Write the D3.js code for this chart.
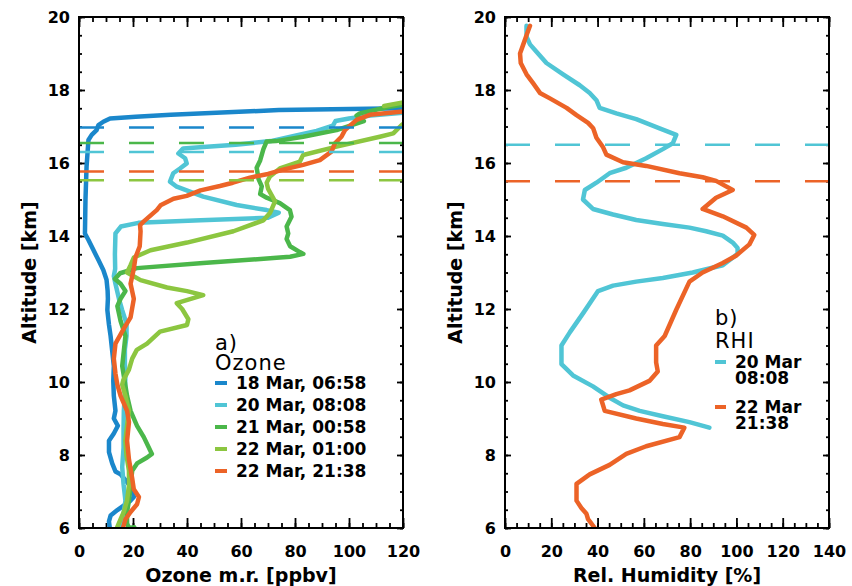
<!DOCTYPE html>
<html>
<head>
<meta charset="utf-8">
<script src="https://cdn.jsdelivr.net/npm/d3@7"></script>
<style>
    body { margin: 0; background: #fff; }
    svg { display: block; }
    .tick text { font-family: "DejaVu Sans", sans-serif; font-weight: bold; font-size: 16px; fill: #000; }
    .tick line { stroke: #000; stroke-width: 1.8px; }
    .ttl { font-family: "DejaVu Sans", sans-serif; font-weight: bold; font-size: 19px; fill: #000; }
    .lg-head { font-family: "DejaVu Sans", sans-serif; font-size: 21px; letter-spacing: 1px; fill: #000; }
    .lg-item { font-family: "DejaVu Sans", sans-serif; font-weight: bold; font-size: 17px; fill: #000; }
</style>
</head>
<body>
<div id="chart"></div>
<script>
// tick labels
var altTicks = [6, 8, 10, 12, 14, 16, 18, 20];
var ozoneTicks = [0, 20, 40, 60, 80, 100, 120];
var rhTicks = [0, 20, 40, 60, 80, 100, 120, 140];

// ozone mixing ratio profiles [ppbv, km]
var ozone18Mar = [[120,17.5],[74,17.45],[34,17.32],[21,17.27],[11.5,17.22],[9,17.13],[7.2,17.04],[6.5,16.9],[4.7,16.77],[3.5,16.63],
    [2.8,15.9],[2.4,15.0],[2.2,14.07],[3.5,13.89],[5.3,13.62],[7.2,13.34],[9,13.07],[10.2,12.8],[10.6,12.5],[10.7,12.28],[10.5,11.97],
    [11.1,11.57],[11.7,11.26],[12.3,10.85],[12.9,10.44],[12.7,10.03],[12.9,9.62],[13.5,9.21],[12.9,9.0],[14.4,8.8],[12.9,8.59],[11.1,8.39],
    [11.1,8.08],[12.3,7.77],[13.5,7.55],[15.4,7.47],[17.8,7.26],[19.7,7.06],[20.3,6.85],[19.1,6.75],[17.2,6.65],[14.2,6.49],[11.7,6.34],
    [11.1,6.18],[11.4,6.0]];
var ozone20Mar = [[120,17.38],[108,17.3],[100,17.22],[95,17.15],[94,17.02],[88,16.88],[80,16.75],[71,16.6],[58,16.5],[46,16.44],
    [38.6,16.4],[36.8,16.26],[39.3,16.13],[39.9,15.99],[37.4,15.85],[34.9,15.72],[33.7,15.49],[36.2,15.35],[46,15.08],[58.4,14.85],
    [69.5,14.71],[74,14.64],[70,14.5],[45,14.43],[22,14.36],[15.5,14.26],[13.5,14.07],[13.3,13.5],[13.4,13.1],[12.9,12.9],[13.5,12.69],
    [14.8,12.28],[16,11.97],[17.6,11.6],[17.6,11.26],[17,10.9],[17,10.5],[17.2,10.23],[17,9.7],[16.6,9.2],[16.5,8.7],[16.5,8.2],
    [16,7.67],[16.5,7.2],[17.2,6.75],[16.5,6.4],[15.4,6.13],[15,6.0]];
var ozone21Mar = [[120,17.6],[115,17.54],[104,17.36],[102.8,17.3],[105.5,17.15],[95.4,16.9],[83,16.72],[73,16.6],[69.5,16.59],
    [68.3,16.38],[67.1,16.07],[65.8,15.87],[66.5,15.56],[67.7,15.36],[67.1,15.15],[69.5,15.05],[74.4,14.9],[78.1,14.71],[78.7,14.53],
    [76.9,14.26],[77.5,14.07],[76.9,13.92],[78.2,13.72],[81.8,13.56],[83.1,13.51],[78.2,13.43],[74.4,13.41],[46,13.26],[21.4,13.12],
    [15.2,12.98],[13.3,12.82],[15.4,12.69],[17.2,12.49],[15.4,12.28],[14.2,12.08],[15.4,11.67],[17.2,11.26],[16.6,10.85],[16,10.44],
    [16.9,10.03],[17.8,9.62],[19.1,9.21],[21.5,8.8],[24,8.49],[27,8.03],[25.2,7.93],[21.5,7.77],[19.7,7.57],[19.1,7.16],[18.5,6.75],
    [17.8,6.44],[17.8,6.13],[18.5,6.0],[20.5,6.02]];
var ozone22Mar01 = [[113,17.56],[120,17.66],[126,17.4],[119.5,17.04],[116.4,16.81],[111.4,16.72],[95.4,16.45],[83,16.22],[81.8,16.04],
    [74.4,15.85],[70.7,15.63],[69.5,15.46],[70,15.3],[72.6,14.95],[70.8,14.64],[68.3,14.43],[57.2,14.13],[40,13.82],[26.5,13.61],
    [20.3,13.41],[19.1,13.2],[17.8,13.0],[22.8,12.79],[32.6,12.59],[40,12.49],[46,12.38],[36.2,12.16],[38.2,12.0],[40.5,11.72],
    [40,11.56],[30,11.38],[25.2,11.05],[21.4,10.88],[19.7,10.64],[18.5,10.34],[16.4,10.05],[16,9.93],[17.2,9.62],[18.5,9.21],
    [17.8,8.8],[17.2,8.39],[17.6,7.98],[18.5,7.57],[18.5,7.16],[17.8,6.75],[16.6,6.44],[15.4,6.24],[14.2,6.03]];
var ozone22Mar21 = [[120,17.41],[107.7,17.32],[102.8,17.18],[98.5,16.9],[97.2,16.72],[94.8,16.54],[93.5,16.31],[89.2,16.08],[83,15.95],
    [75.6,15.82],[70,15.7],[63.3,15.6],[57,15.46],[52.2,15.37],[45,15.25],[39.9,15.1],[35,15.02],[30.2,14.84],[28.8,14.71],[27.4,14.62],
    [24,14.4],[22.6,14.3],[22.8,14.13],[22.5,13.72],[20.9,13.41],[20.3,13.1],[19.1,12.69],[20.3,12.28],[19.1,11.77],[16.6,11.46],
    [13.5,11.05],[12.9,10.64],[13.5,10.23],[14.2,9.93],[15.4,9.62],[17.8,9.21],[18.5,8.9],[17.8,8.39],[18.5,7.88],[19.7,7.36],
    [20.3,7.06],[22.2,6.85],[21.5,6.65],[19.1,6.44],[17.2,6.24],[16.4,6.03]];
var ozoneNames = ["18 Mar, 06:58", "20 Mar, 08:08", "21 Mar, 00:58", "22 Mar, 01:00", "22 Mar, 21:38"];
var ozoneTropo = [16.97, 16.3, 16.55, 15.53, 15.77];

// relative humidity over ice profiles [%, km]
var rhi20Mar = [[9.3,19.76],[9.3,19.46],[10.8,19.25],[13.6,19.05],[17.9,18.74],[25.1,18.43],[32.3,18.13],[36.6,17.92],[39.5,17.72],
    [40.9,17.51],[48.1,17.36],[56.7,17.2],[66.8,16.95],[74,16.77],[72.5,16.54],[68.2,16.38],[61,16.13],[52.4,15.87],[45.2,15.72],
    [39.5,15.46],[34.5,15.26],[33.7,15.0],[38,14.74],[46.7,14.59],[56.7,14.44],[68.2,14.33],[79.7,14.23],[86.9,14.13],[94.1,14.01],
    [98.4,13.82],[100.5,13.67],[100.5,13.51],[94.1,13.2],[81.1,13.0],[68.2,12.85],[56.7,12.75],[46.7,12.64],[40.2,12.49],[33.7,11.88],
    [28,11.36],[24.4,11.0],[24.4,10.49],[29.4,10.18],[38,9.88],[45.2,9.57],[51,9.36],[58.2,9.21],[68.2,9.06],[79.7,8.9],[88.3,8.75]];
var rhi22Mar = [[10.8,19.76],[9.3,19.5],[7.9,19.25],[6.5,19.0],[6.8,18.74],[9.3,18.43],[12.2,18.18],[15.1,17.92],[19.4,17.77],
    [26.6,17.51],[30.9,17.31],[35.9,17.1],[38.1,16.95],[39.5,16.69],[42.4,16.43],[43.8,16.23],[51,16.02],[61,15.92],[75.4,15.72],
    [85.4,15.61],[91.2,15.51],[98.4,15.26],[91.2,15.05],[85.4,14.74],[94.1,14.54],[104.3,14.23],[107.7,14.03],[105.6,13.77],
    [99.8,13.46],[94.1,13.26],[85.4,13.0],[79.7,12.75],[74,11.98],[69,11.26],[65.3,11.0],[65.3,10.54],[66,10.29],[62.4,10.03],
    [53.8,9.77],[48.1,9.67],[41.6,9.52],[43.1,9.21],[56.7,9.0],[68.2,8.85],[77.5,8.75],[75.4,8.49],[61,8.24],[52.4,8.03],[45.2,7.73],
    [36.6,7.47],[30.9,7.21],[30.9,6.75],[33,6.55],[35.2,6.39],[35.9,6.24],[38.8,6.0]];
var rhiNames = [["20 Mar", "08:08"], ["22 Mar", "21:38"]];
var rhiTropo = [16.5, 15.5];

var ozoneColors = ["#1a87cb", "#50c5d5", "#4bb74a", "#8cc640", "#ec6327"];
var rhiColors = ["#50c5d5", "#ec6327"];

var W = 852, H = 586, padTop = 17, ph = 511, pw = 324;

var svg = d3.select("#chart").append("svg")
    .attr("width", W)
    .attr("height", H);

function drawPanel(opt) {
    var g = svg.append("g")
        .attr("transform", "translate(" + opt.left + "," + padTop + ")");

    var x = d3.scaleLinear().domain([0, opt.xMax]).range([0, pw]);
    var y = d3.scaleLinear().domain([6, 20]).range([ph, 0]);

    g.append("clipPath").attr("id", opt.id)
        .append("rect").attr("width", pw).attr("height", ph);

    // minor ticks
    var xMinor = d3.range(0, opt.xMax + 0.01, 5);
    var yMinor = d3.range(6, 20.01, 0.5);
    g.append("g").attr("transform", "translate(0," + ph + ")")
        .call(d3.axisBottom(x).tickValues(xMinor).tickSize(-5).tickFormat(""));
    g.append("g")
        .call(d3.axisTop(x).tickValues(xMinor).tickSize(-5).tickFormat(""));
    g.append("g")
        .call(d3.axisLeft(y).tickValues(yMinor).tickSize(-3).tickFormat(""));
    g.append("g").attr("transform", "translate(" + pw + ",0)")
        .call(d3.axisRight(y).tickValues(yMinor).tickSize(-3).tickFormat(""));

    // major ticks
    g.append("g").attr("transform", "translate(0," + ph + ")")
        .call(d3.axisBottom(x).tickValues(opt.xTicks).tickSize(-10).tickPadding(18).tickFormat(d3.format("d")));
    g.append("g")
        .call(d3.axisTop(x).tickValues(opt.xTicks).tickSize(-10).tickFormat(""));
    g.append("g")
        .call(d3.axisLeft(y).tickValues(altTicks).tickSize(-6).tickPadding(9).tickFormat(d3.format("d")));
    g.append("g").attr("transform", "translate(" + pw + ",0)")
        .call(d3.axisRight(y).tickValues(altTicks).tickSize(-6).tickFormat(""));

    g.selectAll(".domain").remove();

    var line = d3.line()
        .x(function(d) { return x(d[0]); })
        .y(function(d) { return y(d[1]); });

    var plot = g.append("g").attr("clip-path", "url(#" + opt.id + ")");

    opt.series.forEach(function(s, i) {
        plot.append("path")
            .attr("d", line(s))
            .attr("fill", "none")
            .attr("stroke", opt.colors[i])
            .attr("stroke-width", 4.5)
            .attr("stroke-linejoin", "round")
            .attr("stroke-linecap", "round");
    });

    opt.tropo.forEach(function(h, i) {
        plot.append("line")
            .attr("x1", 0).attr("x2", pw)
            .attr("y1", y(h)).attr("y2", y(h))
            .attr("stroke", opt.tropoColors[i])
            .attr("stroke-width", 2.5)
            .attr("stroke-dasharray", "25,25");
    });

    g.append("rect")
        .attr("width", pw).attr("height", ph)
        .attr("fill", "none")
        .attr("stroke", "#000")
        .attr("stroke-width", 2);

    g.append("text")
        .attr("class", "ttl")
        .attr("x", pw / 2).attr("y", 565)
        .attr("text-anchor", "middle")
        .text(opt.xTitle);

    g.append("text")
        .attr("class", "ttl")
        .attr("transform", "translate(" + (opt.yTitleX - opt.left) + "," + (ph / 2) + ") rotate(-90)")
        .attr("text-anchor", "middle")
        .text("Altitude [km]");

    return g;
}

drawPanel({
    id: "clipA", left: 79, xMax: 120, xTicks: ozoneTicks,
    series: [ozone18Mar, ozone20Mar, ozone21Mar, ozone22Mar01, ozone22Mar21],
    colors: ozoneColors,
    tropo: ozoneTropo,
    tropoColors: ozoneColors,
    xTitle: "Ozone m.r. [ppbv]",
    yTitleX: 36
});

drawPanel({
    id: "clipB", left: 505, xMax: 140, xTicks: rhTicks,
    series: [rhi20Mar, rhi22Mar],
    colors: rhiColors,
    tropo: rhiTropo,
    tropoColors: rhiColors,
    xTitle: "Rel. Humidity [%]",
    yTitleX: 462
});

// legend a)
var lgA = svg.append("g").attr("transform", "translate(215,0)");
lgA.append("text").attr("class", "lg-head").attr("x", 0).attr("y", 342).attr("dy", "0.36em").text("a)");
lgA.append("text").attr("class", "lg-head").attr("x", 0).attr("y", 362).attr("dy", "0.36em").text("Ozone");
ozoneNames.forEach(function(name, i) {
    var yy = 383 + i * 22;
    lgA.append("line")
        .attr("x1", 0).attr("x2", 12).attr("y1", yy).attr("y2", yy)
        .attr("stroke", ozoneColors[i]).attr("stroke-width", 4);
    lgA.append("text").attr("class", "lg-item")
        .attr("x", 21).attr("y", yy).attr("dy", "0.36em")
        .text(name);
});

// legend b)
var lgB = svg.append("g").attr("transform", "translate(715,0)");
lgB.append("text").attr("class", "lg-head").attr("x", 0).attr("y", 317).attr("dy", "0.36em").text("b)");
lgB.append("text").attr("class", "lg-head").attr("x", 0).attr("y", 340).attr("dy", "0.36em").text("RHI");
rhiNames.forEach(function(name, i) {
    var yy = 362 + i * 45;
    lgB.append("line")
        .attr("x1", 0).attr("x2", 11).attr("y1", yy).attr("y2", yy)
        .attr("stroke", rhiColors[i]).attr("stroke-width", 4);
    lgB.append("text").attr("class", "lg-item")
        .attr("x", 20).attr("y", yy).attr("dy", "0.36em")
        .text(name[0]);
    lgB.append("text").attr("class", "lg-item")
        .attr("x", 20).attr("y", yy + 16).attr("dy", "0.36em")
        .text(name[1]);
});
</script>
</body>
</html>
